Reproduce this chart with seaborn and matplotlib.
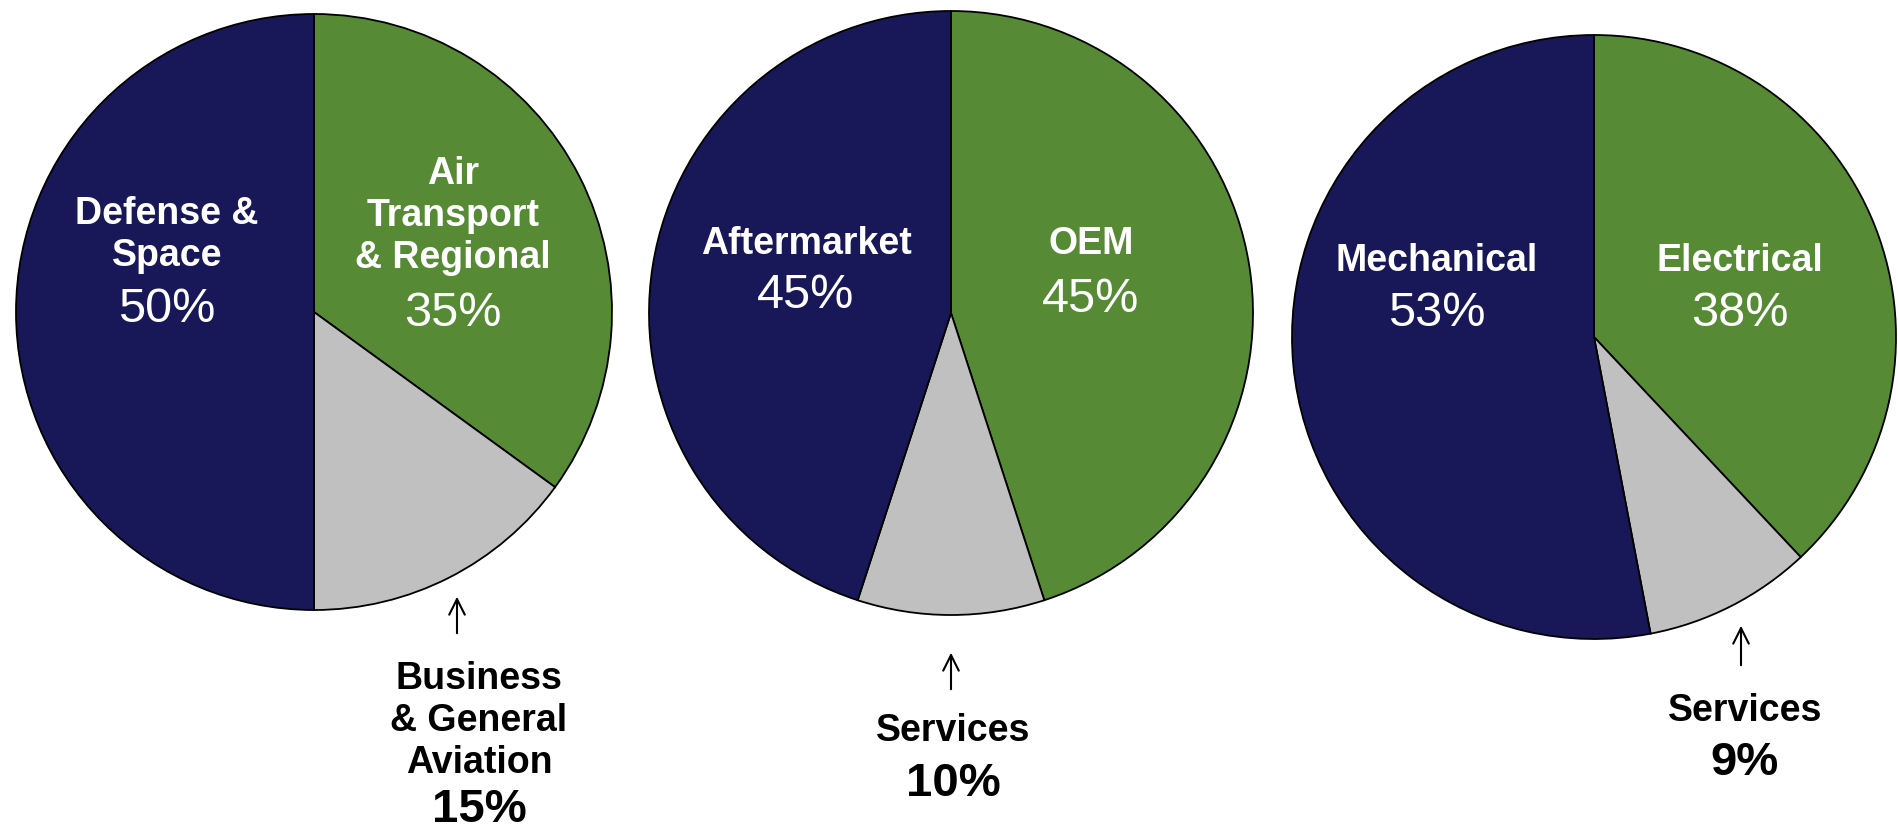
import matplotlib
matplotlib.use("Agg")
import matplotlib.pyplot as plt
import seaborn as sns

# ---------------------------------------------------------------------------
# Data
# ---------------------------------------------------------------------------
segment_names = ["Air\nTransport\n& Regional", "Business\n& General\nAviation", "Defense &\nSpace"]
segment_values = [35, 15, 50]

business_names = ["OEM", "Services", "Aftermarket"]
business_values = [45, 10, 45]

product_names = ["Electrical", "Services", "Mechanical"]
product_values = [38, 9, 53]

slice_colors = ["#568A35", "#C0C0C0", "#181858"]

# ---------------------------------------------------------------------------
# Layout (pixel coordinates, origin top-left)
# ---------------------------------------------------------------------------
W, H = 1899, 839
pie_centers = [(314, 312), (951, 313), (1594, 337)]
pie_radius = [298, 302, 302]

# label/percent anchors for slices drawn inside the pie: (x, label_y, pct_y)
inside_pos = [
    {0: (453, 216, 313), 2: (167, 235, 310)},
    {0: (1091, 244, 299), 2: (806, 244, 296)},
    {0: (1740, 261, 313), 2: (1437, 261, 313)},
]
# outside label for the small grey slice: arrow (x, tip_y, tail_y), text (x, label_y, pct_y)
outside_pos = [
    ((457, 594, 636), (479, 721, 810)),
    ((951, 650, 692), (953, 731, 784)),
    ((1741, 623, 668), (1745, 711, 763)),
]

sns.set_theme(style="white")
plt.rcParams["font.family"] = ["Liberation Sans", "DejaVu Sans"]

fig = plt.figure(figsize=(W / 100, H / 100), dpi=100)
ax = fig.add_axes([0, 0, 1, 1])


def fy(y):
    return H - y


groups = [
    (segment_names, segment_values),
    (business_names, business_values),
    (product_names, product_values),
]

for i, (names, values) in enumerate(groups):
    cx, cy = pie_centers[i]
    ax.pie(values, colors=slice_colors, startangle=90, counterclock=False,
           center=(cx, fy(cy)), radius=pie_radius[i],
           wedgeprops=dict(edgecolor="black", linewidth=1.3))

    for k, (x, ly, py) in inside_pos[i].items():
        ax.text(x, fy(ly), names[k], color="white", fontsize=27, fontweight="bold",
                ha="center", va="center", linespacing=1.2)
        ax.text(x, fy(py), f"{values[k]}%", color="white", fontsize=35,
                ha="center", va="center")

    (axx, tip, tail), (tx, ly, py) = outside_pos[i]
    ax.annotate("", xy=(axx, fy(tip)), xytext=(axx, fy(tail)),
                arrowprops=dict(arrowstyle="->", color="black", lw=1.5,
                                mutation_scale=28))
    ax.text(tx, fy(ly), names[1], color="black", fontsize=27, fontweight="bold",
            ha="center", va="center", linespacing=1.2)
    ax.text(tx, fy(py), f"{values[1]}%", color="black", fontsize=34,
            fontweight="bold", ha="center", va="center")

ax.set_xlim(0, W)
ax.set_ylim(0, H)
ax.set_aspect("auto")
ax.axis("off")

fig.savefig("out.png", dpi=100, facecolor="white")
